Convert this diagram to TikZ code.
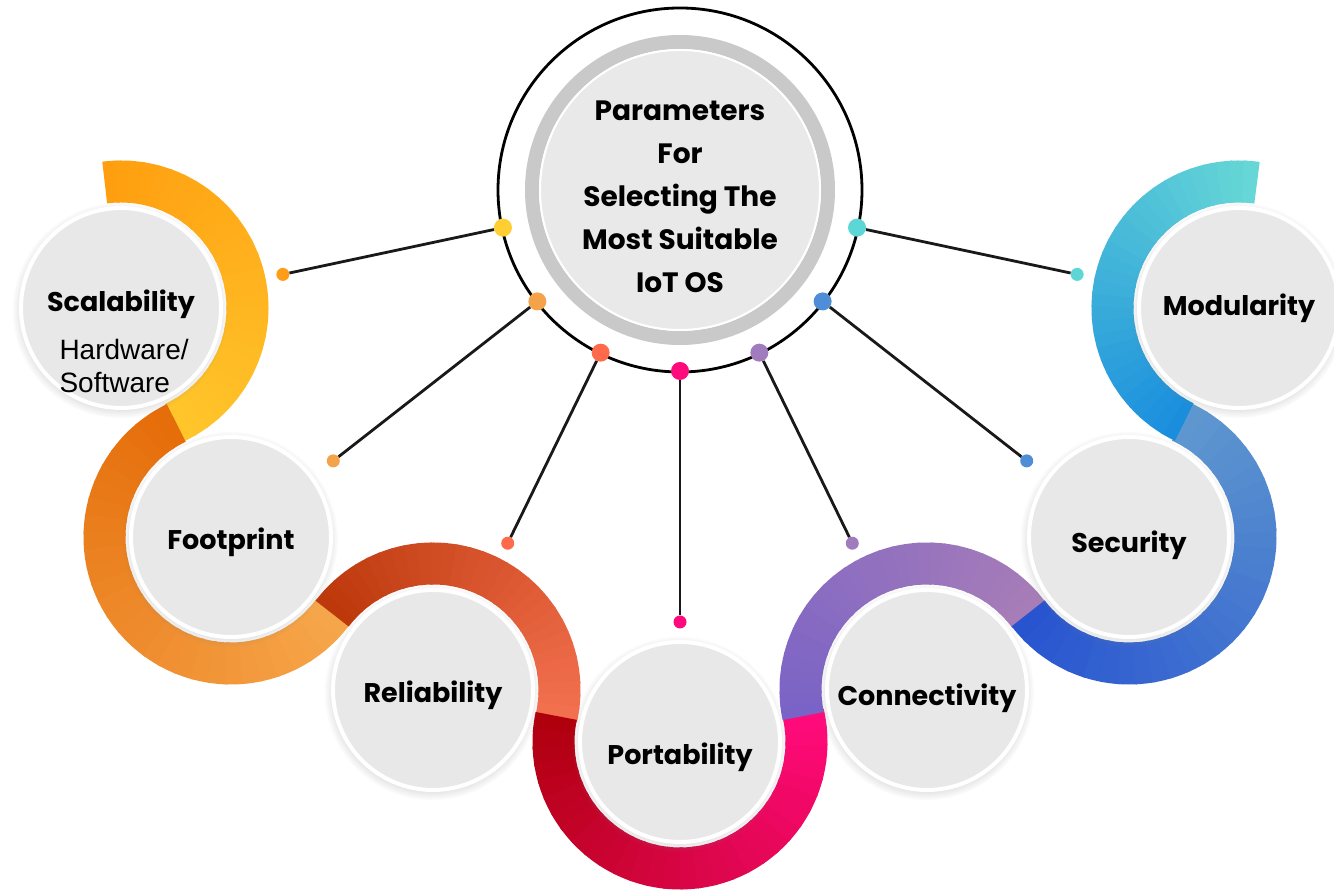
\documentclass[tikz,border=0pt]{standalone}
\usepackage{fontspec}
\setmainfont{Poppins}
\newfontfamily\arialfont{Liberation Sans}
\usetikzlibrary{backgrounds,shadows,fadings}

\definecolor{bubble}{HTML}{E8E8E8}
\definecolor{hubring}{HTML}{C9C9C9}
\definecolor{hubfill}{HTML}{E9E9E9}
\definecolor{scalA}{HTML}{FF9F10}\definecolor{scalB}{HTML}{FFC52B}
\definecolor{footA}{HTML}{E56D0A}\definecolor{footB}{HTML}{F6A64A}
\definecolor{reliA}{HTML}{BD390C}\definecolor{reliB}{HTML}{F3704F}
\definecolor{portA}{HTML}{B0000E}\definecolor{portB}{HTML}{FF0A7A}
\definecolor{connA}{HTML}{7A63C6}\definecolor{connB}{HTML}{A77DB8}
\definecolor{secuA}{HTML}{2854D0}\definecolor{secuB}{HTML}{5E97CF}
\definecolor{moduA}{HTML}{1A8EDD}\definecolor{moduB}{HTML}{66D7D6}
\definecolor{dyel}{HTML}{FFCE33}
\definecolor{dora}{HTML}{F5A34B}
\definecolor{dred}{HTML}{FF6A4A}
\definecolor{dpink}{HTML}{FF0A7C}
\definecolor{dpur}{HTML}{A07CBF}
\definecolor{dblue}{HTML}{4F8DD7}
\definecolor{dcyan}{HTML}{5DD7D6}
\definecolor{eora}{HTML}{FF9C18}

% thick arc around a circle, shaded from colour #4 to colour #5
\newcommand{\colorband}[5]{%
  \foreach \k in {0,...,29}{%
    \pgfmathsetmacro{\angA}{#2+(#3-#2)*\k/30}%
    \pgfmathsetmacro{\angB}{#2+(#3-#2)*(\k+1.2)/30}%
    \pgfmathsetmacro{\mixB}{100*\k/29}%
    \draw[line width=42pt,color=#5!\mixB!#4] (#1) ++(\angA:126.5pt)
      arc[start angle=\angA,end angle=\angB,radius=126.5pt];
  }}

\begin{document}
\begin{tikzpicture}[x=1pt,y=1pt,
    param/.style={circle,fill=bubble,draw=white,line width=4pt,minimum size=200pt,inner sep=0pt,
      circular drop shadow={shadow xshift=-1pt,shadow yshift=-2pt,shadow scale=1.08,opacity=.35}},
    lbl/.style={font=\fontsize{27}{30}\selectfont\bfseries},
    ringdot/.style={circle,minimum size=18pt,inner sep=0pt},
    enddot/.style={circle,minimum size=13pt,inner sep=0pt},
    link/.style={line width=2.8pt,black!90}]
\useasboundingbox (0,0) rectangle (1334,890);

% centre circle
\node[circle,draw,line width=2.8pt,minimum size=364pt,inner sep=0pt,
  label={[yshift=-7pt,align=center,font=\fontsize{28}{43}\selectfont\bfseries]center:{Parameters\\For\\Selecting The\\Most Suitable\\IoT OS}}] (hub) at (680,700) {};

% parameter circles
\node[param,label={[lbl,yshift=4pt]center:Scalability}] (scal) at (121,582) {};
\node[param,label={[lbl,yshift=-5pt]center:Footprint}] (foot) at (231,353) {};
\node[param,label={[lbl,yshift=-5pt]center:Reliability}] (reli) at (433,200) {};
\node[param,label={[lbl,yshift=-15pt]center:Portability}] (port) at (680,148) {};
\node[param,label={[lbl,yshift=-8pt]center:Connectivity}] (conn) at (927,200) {};
\node[param,label={[lbl,yshift=-8pt]center:Security}] (secu) at (1129,353) {};
\node[param,label={[lbl]center:Modularity}] (modu) at (1239,582) {};

\node[anchor=west,align=left,font=\arialfont\fontsize{28}{33}\selectfont] (hw) at (56,524) {Hardware/\\Software};

% coloured bands and hub rings
\begin{scope}[on background layer]
\fill[white] (0,0) rectangle (1334,890);
\colorband{scal.center}{97.4}{-64.35}{scalA}{scalB}
\colorband{foot.center}{115.65}{322.86}{footA}{footB}
\colorband{reli.center}{142.86}{-11.89}{reliA}{reliB}
\colorband{port.center}{168.11}{371.89}{portA}{portB}
\colorband{conn.center}{191.89}{37.14}{connA}{connB}
\colorband{secu.center}{217.14}{424.35}{secuA}{secuB}
\colorband{modu.center}{244.35}{82.9}{moduA}{moduB}
\draw[hubring,line width=14pt] (hub.center) circle[radius=148pt];
\filldraw[fill=hubfill,draw=white,line width=2pt] (hub.center) circle[radius=140pt];
\end{scope}

% dots on the hub ring
\node[ringdot,fill=dyel] (r1) at ([shift={(192:181pt)}]hub) {};
\node[ringdot,fill=dora] (r2) at ([shift={(218:181pt)}]hub) {};
\node[ringdot,fill=dred] (r3) at ([shift={(244:181pt)}]hub) {};
\node[ringdot,fill=dpink] (r4) at ([shift={(270:181pt)}]hub) {};
\node[ringdot,fill=dpur] (r5) at ([shift={(296:181pt)}]hub) {};
\node[ringdot,fill=dblue] (r6) at ([shift={(322:181pt)}]hub) {};
\node[ringdot,fill=dcyan] (r7) at ([shift={(348:181pt)}]hub) {};

% end dots
\node[enddot,fill=eora] (e1) at ([shift={(192:406pt)}]hub) {};
\node[enddot,fill=dora] (e2) at ([shift={(218:440pt)}]hub) {};
\node[enddot,fill=dred] (e3) at ([shift={(244:393pt)}]hub) {};
\node[enddot,fill=dpink] (e4) at ([shift={(270:432pt)}]hub) {};
\node[enddot,fill=dpur] (e5) at ([shift={(296:393pt)}]hub) {};
\node[enddot,fill=dblue] (e6) at ([shift={(322:440pt)}]hub) {};
\node[enddot,fill=dcyan] (e7) at ([shift={(348:406pt)}]hub) {};

% connectors
\draw[link] (r1) -- (e1);
\draw[link] (r2) -- (e2);
\draw[link] (r3) -- (e3);
\draw[link] (r4) -- (e4);
\draw[link] (r5) -- (e5);
\draw[link] (r6) -- (e6);
\draw[link] (r7) -- (e7);

\end{tikzpicture}
\end{document}
